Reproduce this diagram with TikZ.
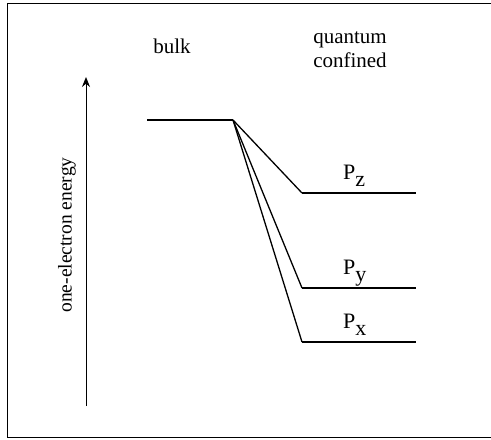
\documentclass[tikz,border=0pt]{standalone}
\usepackage{fontspec}
\setmainfont{Liberation Serif}
\usetikzlibrary{arrows.meta}
\newcommand{\lvsub}[1]{\raisebox{-7pt}{#1}}
\begin{document}
\begin{tikzpicture}[x=1pt,y=-1pt,
  level/.style={line width=1.7pt},
  conn/.style={line width=1.3pt},
  lbl/.style={inner sep=0pt,font=\fontsize{21}{24}\selectfont},
  plbl/.style={inner sep=0pt,anchor=base west,font=\fontsize{22}{24}\selectfont},
]
\useasboundingbox (0,0) rectangle (491,440);
\draw[line width=1pt] (491,3) -- (7,3) -- (7,437) -- (491,437);
% axis
\coordinate (abot) at (86,406);
\coordinate (atop) at (86,77);
\draw[line width=1pt,-{Stealth[length=10pt,width=8pt]}] (abot) -- (atop);
\node[lbl,rotate=90,font=\fontsize{19.5}{22}\selectfont] (elab) at (67,235) {one-electron energy};
% headers
\node[lbl] (bulk) at (172,46) {bulk};
\node[lbl,align=center] (qc) at (350,50) {quantum\\confined};
% levels
\coordinate (b1) at (147,120);
\coordinate (b2) at (233,120);
\coordinate (z1) at (302,193);
\coordinate (z2) at (416,193);
\coordinate (y1) at (302,288);
\coordinate (y2) at (416,288);
\coordinate (x1) at (302,342);
\coordinate (x2) at (416,342);
\draw[level] (b1) -- (b2);
\draw[level] (z1) -- (z2);
\draw[level] (y1) -- (y2);
\draw[level] (x1) -- (x2);
\draw[conn] (b2) -- (z1);
\draw[conn] (b2) -- (y1);
\draw[conn] (b2) -- (x1);
\node[plbl] (pz) at (343,179) {P\lvsub{z}};
\node[plbl] (py) at (343,274) {P\lvsub{y}};
\node[plbl] (px) at (343,328) {P\lvsub{x}};
\end{tikzpicture}
\end{document}
